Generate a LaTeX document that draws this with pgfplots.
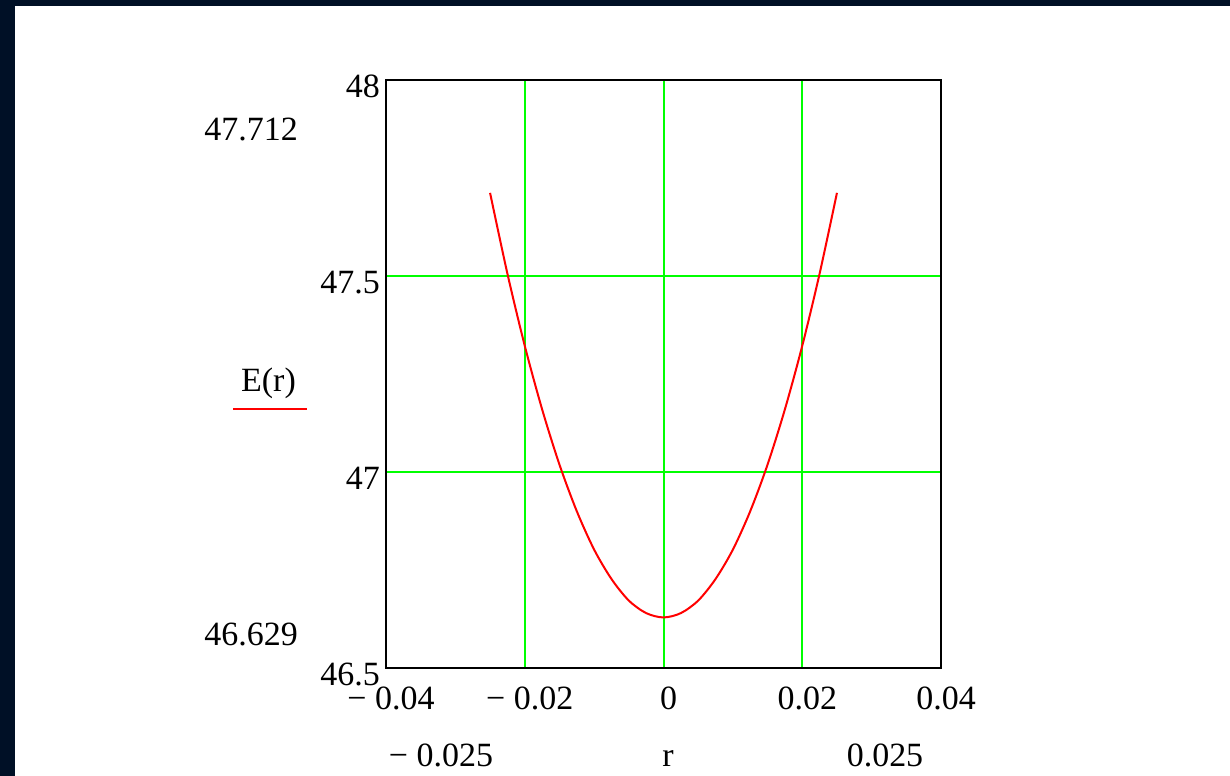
\documentclass[border=0pt]{standalone}
\usepackage{pgfplots}
\pgfplotsset{compat=1.18}
\usepackage{fontspec}
\setmainfont{Liberation Serif}
\definecolor{navy}{RGB}{0,16,38}
\definecolor{mgreen}{RGB}{0,255,0}
\begin{document}
\begin{tikzpicture}[x=1bp,y=1bp,font=\fontsize{34.1}{40}\selectfont]
\fill[navy] (0,0) rectangle (1230,776);
\fill[white] (15,0) rectangle (1230,770);
\begin{axis}[
  at={(386bp,108bp)}, anchor=south west,
  scale only axis, width=555bp, height=588bp,
  xmin=-0.04, xmax=0.04, ymin=46.5, ymax=48,
  scaled x ticks=false, scaled y ticks=false,
  xtick={-0.04,-0.02,0,0.02,0.04},
  xticklabels={{− 0.04},{− 0.02},{0},{0.02},{0.04}},
  ytick={46.5,47,47.5,48},
  yticklabels={46.5,47,47.5,48},
  tick style={draw=none},
  xmajorgrids, ymajorgrids,
  major grid style={mgreen, line width=2bp},
  axis line style={black, line width=2.8bp},
  xticklabel style={anchor=base, inner sep=0pt, yshift=-42bp, xshift=5bp},
  yticklabel style={anchor=base east, inner sep=0pt, yshift=-18bp, xshift=-6bp},
]
\addplot[red, line width=2bp, smooth] coordinates {
(-0.025,47.712) (-0.0225,47.506) (-0.02,47.322) (-0.0175,47.160) (-0.015,47.019)
(-0.0125,46.900) (-0.01,46.802) (-0.0075,46.727) (-0.005,46.672) (-0.0025,46.640)
(0,46.629) (0.0025,46.640) (0.005,46.672) (0.0075,46.727) (0.01,46.802)
(0.0125,46.900) (0.015,47.019) (0.0175,47.160) (0.02,47.322) (0.0225,47.506)
(0.025,47.712)};
\end{axis}
\node[anchor=base east, inner sep=0pt] at (298,635) {47.712};
\node[anchor=base east, inner sep=0pt] at (298,130) {46.629};
\node[anchor=base, inner sep=0pt] at (268.5,384) {E(r)};
\draw[red, line width=2bp] (233,367) -- (307,367);
\node[anchor=base, inner sep=0pt] at (441,9) {− 0.025};
\node[anchor=base, inner sep=0pt] at (668,9) {r};
\node[anchor=base, inner sep=0pt] at (885,9) {0.025};
\end{tikzpicture}
\end{document}
